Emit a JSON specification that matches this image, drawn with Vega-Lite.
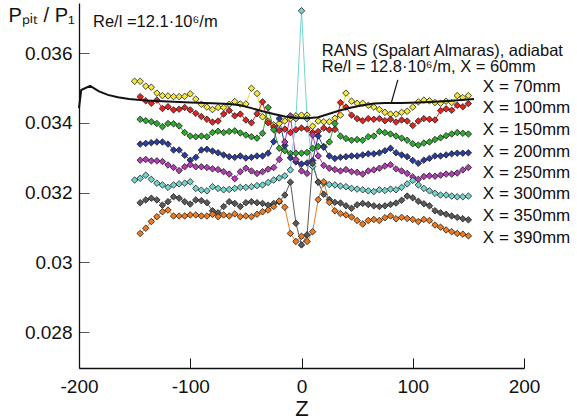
{
"$schema": "https://vega.github.io/schema/vega-lite/v6.json",
"width": 445, "height": 365,
"autosize": {"type": "none"},
"padding": {"left": 79, "top": 3, "right": 53, "bottom": 52},
"config": {"font": "Liberation Sans", "view": {"stroke": null}, "text": {"color": "#111"}},
"datasets": {
"series": [
{"s":"70","z":-150,"p":0.03519},{"s":"70","z":-145,"p":0.03519},{"s":"70","z":-140,"p":0.03505},{"s":"70","z":-135,"p":0.03502},{"s":"70","z":-130,"p":0.03485},{"s":"70","z":-125,"p":0.03478},{"s":"70","z":-120,"p":0.03477},{"s":"70","z":-115,"p":0.03475},{"s":"70","z":-110,"p":0.03475},{"s":"70","z":-105,"p":0.03476},{"s":"70","z":-100,"p":0.03483},{"s":"70","z":-95,"p":0.03468},{"s":"70","z":-90,"p":0.03453},{"s":"70","z":-85,"p":0.03445},{"s":"70","z":-80,"p":0.03438},{"s":"70","z":-75,"p":0.03444},{"s":"70","z":-70,"p":0.03444},{"s":"70","z":-65,"p":0.03453},{"s":"70","z":-60,"p":0.03461},{"s":"70","z":-55,"p":0.03454},{"s":"70","z":-50,"p":0.03454},{"s":"70","z":-45,"p":0.03499},{"s":"70","z":-40,"p":0.03484},{"s":"70","z":-35,"p":0.03417},{"s":"70","z":-30,"p":0.03405},{"s":"70","z":-25,"p":0.03394},{"s":"70","z":-20,"p":0.03398},{"s":"70","z":-15,"p":0.03405},{"s":"70","z":-10,"p":0.03412},{"s":"70","z":-5,"p":0.0342},{"s":"70","z":0,"p":0.03422},{"s":"70","z":5,"p":0.03422},{"s":"70","z":10,"p":0.0339},{"s":"70","z":15,"p":0.03405},{"s":"70","z":20,"p":0.03403},{"s":"70","z":25,"p":0.03403},{"s":"70","z":30,"p":0.03413},{"s":"70","z":35,"p":0.03422},{"s":"70","z":40,"p":0.03485},{"s":"70","z":45,"p":0.03462},{"s":"70","z":50,"p":0.03456},{"s":"70","z":55,"p":0.03456},{"s":"70","z":60,"p":0.0345},{"s":"70","z":65,"p":0.03445},{"s":"70","z":70,"p":0.03438},{"s":"70","z":75,"p":0.0343},{"s":"70","z":80,"p":0.03425},{"s":"70","z":85,"p":0.03425},{"s":"70","z":90,"p":0.0343},{"s":"70","z":95,"p":0.03433},{"s":"70","z":100,"p":0.03445},{"s":"70","z":105,"p":0.0346},{"s":"70","z":110,"p":0.03465},{"s":"70","z":115,"p":0.03463},{"s":"70","z":120,"p":0.03458},{"s":"70","z":125,"p":0.03456},{"s":"70","z":130,"p":0.03462},{"s":"70","z":135,"p":0.03458},{"s":"70","z":140,"p":0.03478},{"s":"70","z":145,"p":0.03472},{"s":"70","z":150,"p":0.03478},
{"s":"100","z":-145,"p":0.03475},{"s":"100","z":-140,"p":0.03463},{"s":"100","z":-135,"p":0.03456},{"s":"100","z":-130,"p":0.03465},{"s":"100","z":-125,"p":0.03441},{"s":"100","z":-120,"p":0.03446},{"s":"100","z":-115,"p":0.03437},{"s":"100","z":-110,"p":0.03439},{"s":"100","z":-105,"p":0.03444},{"s":"100","z":-100,"p":0.03437},{"s":"100","z":-95,"p":0.03427},{"s":"100","z":-90,"p":0.03418},{"s":"100","z":-85,"p":0.0341},{"s":"100","z":-80,"p":0.03402},{"s":"100","z":-75,"p":0.03405},{"s":"100","z":-70,"p":0.03425},{"s":"100","z":-65,"p":0.03435},{"s":"100","z":-60,"p":0.0342},{"s":"100","z":-55,"p":0.03425},{"s":"100","z":-50,"p":0.03408},{"s":"100","z":-45,"p":0.034},{"s":"100","z":-40,"p":0.03426},{"s":"100","z":-35,"p":0.0346},{"s":"100","z":-30,"p":0.034},{"s":"100","z":-25,"p":0.03388},{"s":"100","z":-20,"p":0.03378},{"s":"100","z":-15,"p":0.03382},{"s":"100","z":-10,"p":0.03372},{"s":"100","z":-5,"p":0.0338},{"s":"100","z":0,"p":0.03385},{"s":"100","z":5,"p":0.03382},{"s":"100","z":10,"p":0.03372},{"s":"100","z":15,"p":0.03375},{"s":"100","z":20,"p":0.03385},{"s":"100","z":25,"p":0.0338},{"s":"100","z":30,"p":0.03381},{"s":"100","z":35,"p":0.03458},{"s":"100","z":40,"p":0.03445},{"s":"100","z":45,"p":0.03422},{"s":"100","z":50,"p":0.03412},{"s":"100","z":55,"p":0.03406},{"s":"100","z":60,"p":0.03412},{"s":"100","z":65,"p":0.0341},{"s":"100","z":70,"p":0.03412},{"s":"100","z":75,"p":0.03406},{"s":"100","z":80,"p":0.0341},{"s":"100","z":85,"p":0.03402},{"s":"100","z":90,"p":0.03408},{"s":"100","z":95,"p":0.03405},{"s":"100","z":100,"p":0.03392},{"s":"100","z":105,"p":0.03405},{"s":"100","z":110,"p":0.03412},{"s":"100","z":115,"p":0.0341},{"s":"100","z":120,"p":0.03408},{"s":"100","z":125,"p":0.03435},{"s":"100","z":130,"p":0.0344},{"s":"100","z":135,"p":0.03436},{"s":"100","z":140,"p":0.0345},{"s":"100","z":145,"p":0.03446},{"s":"100","z":150,"p":0.03455},
{"s":"150","z":-145,"p":0.0341},{"s":"150","z":-140,"p":0.03406},{"s":"150","z":-135,"p":0.03403},{"s":"150","z":-130,"p":0.03398},{"s":"150","z":-125,"p":0.03389},{"s":"150","z":-120,"p":0.03398},{"s":"150","z":-115,"p":0.03397},{"s":"150","z":-110,"p":0.03391},{"s":"150","z":-105,"p":0.03372},{"s":"150","z":-100,"p":0.03362},{"s":"150","z":-95,"p":0.0336},{"s":"150","z":-90,"p":0.03362},{"s":"150","z":-85,"p":0.0336},{"s":"150","z":-80,"p":0.03372},{"s":"150","z":-75,"p":0.03376},{"s":"150","z":-70,"p":0.03372},{"s":"150","z":-65,"p":0.03375},{"s":"150","z":-60,"p":0.03377},{"s":"150","z":-55,"p":0.03371},{"s":"150","z":-50,"p":0.03365},{"s":"150","z":-45,"p":0.0336},{"s":"150","z":-40,"p":0.03356},{"s":"150","z":-35,"p":0.0337},{"s":"150","z":-30,"p":0.03444},{"s":"150","z":-25,"p":0.0338},{"s":"150","z":-20,"p":0.03327},{"s":"150","z":-15,"p":0.0332},{"s":"150","z":-10,"p":0.03312},{"s":"150","z":-5,"p":0.03313},{"s":"150","z":0,"p":0.03313},{"s":"150","z":5,"p":0.03315},{"s":"150","z":10,"p":0.03327},{"s":"150","z":15,"p":0.03332},{"s":"150","z":20,"p":0.03332},{"s":"150","z":25,"p":0.03345},{"s":"150","z":30,"p":0.03398},{"s":"150","z":35,"p":0.03362},{"s":"150","z":40,"p":0.03355},{"s":"150","z":45,"p":0.0335},{"s":"150","z":50,"p":0.03352},{"s":"150","z":55,"p":0.0335},{"s":"150","z":60,"p":0.0336},{"s":"150","z":65,"p":0.03362},{"s":"150","z":70,"p":0.03375},{"s":"150","z":75,"p":0.03372},{"s":"150","z":80,"p":0.03368},{"s":"150","z":85,"p":0.03362},{"s":"150","z":90,"p":0.03356},{"s":"150","z":95,"p":0.0335},{"s":"150","z":100,"p":0.0334},{"s":"150","z":105,"p":0.03336},{"s":"150","z":110,"p":0.03342},{"s":"150","z":115,"p":0.03345},{"s":"150","z":120,"p":0.03352},{"s":"150","z":125,"p":0.03357},{"s":"150","z":130,"p":0.03363},{"s":"150","z":135,"p":0.03368},{"s":"150","z":140,"p":0.03372},{"s":"150","z":145,"p":0.0337},{"s":"150","z":150,"p":0.03368},
{"s":"200","z":-145,"p":0.03339},{"s":"200","z":-140,"p":0.03341},{"s":"200","z":-135,"p":0.03343},{"s":"200","z":-130,"p":0.03345},{"s":"200","z":-125,"p":0.03345},{"s":"200","z":-120,"p":0.03339},{"s":"200","z":-115,"p":0.03322},{"s":"200","z":-110,"p":0.03322},{"s":"200","z":-105,"p":0.03307},{"s":"200","z":-100,"p":0.03293},{"s":"200","z":-95,"p":0.03301},{"s":"200","z":-90,"p":0.03322},{"s":"200","z":-85,"p":0.03324},{"s":"200","z":-80,"p":0.03319},{"s":"200","z":-75,"p":0.03314},{"s":"200","z":-70,"p":0.03308},{"s":"200","z":-65,"p":0.03303},{"s":"200","z":-60,"p":0.03301},{"s":"200","z":-55,"p":0.03305},{"s":"200","z":-50,"p":0.03299},{"s":"200","z":-45,"p":0.03301},{"s":"200","z":-40,"p":0.03305},{"s":"200","z":-35,"p":0.03305},{"s":"200","z":-30,"p":0.03313},{"s":"200","z":-25,"p":0.03346},{"s":"200","z":-20,"p":0.03412},{"s":"200","z":-15,"p":0.03335},{"s":"200","z":-10,"p":0.033},{"s":"200","z":-5,"p":0.03288},{"s":"200","z":0,"p":0.03282},{"s":"200","z":5,"p":0.03285},{"s":"200","z":10,"p":0.03292},{"s":"200","z":15,"p":0.03362},{"s":"200","z":20,"p":0.0333},{"s":"200","z":25,"p":0.03305},{"s":"200","z":30,"p":0.03298},{"s":"200","z":35,"p":0.03301},{"s":"200","z":40,"p":0.03303},{"s":"200","z":45,"p":0.03305},{"s":"200","z":50,"p":0.03305},{"s":"200","z":55,"p":0.03308},{"s":"200","z":60,"p":0.03311},{"s":"200","z":65,"p":0.03311},{"s":"200","z":70,"p":0.03314},{"s":"200","z":75,"p":0.0332},{"s":"200","z":80,"p":0.03327},{"s":"200","z":85,"p":0.03314},{"s":"200","z":90,"p":0.03308},{"s":"200","z":95,"p":0.03303},{"s":"200","z":100,"p":0.03292},{"s":"200","z":105,"p":0.03284},{"s":"200","z":110,"p":0.03293},{"s":"200","z":115,"p":0.03298},{"s":"200","z":120,"p":0.03305},{"s":"200","z":125,"p":0.03305},{"s":"200","z":130,"p":0.03308},{"s":"200","z":135,"p":0.03311},{"s":"200","z":140,"p":0.03313},{"s":"200","z":145,"p":0.03313},{"s":"200","z":150,"p":0.03314},
{"s":"250","z":-145,"p":0.03293},{"s":"250","z":-140,"p":0.03295},{"s":"250","z":-135,"p":0.03291},{"s":"250","z":-130,"p":0.03291},{"s":"250","z":-125,"p":0.03289},{"s":"250","z":-120,"p":0.03279},{"s":"250","z":-115,"p":0.03272},{"s":"250","z":-110,"p":0.03263},{"s":"250","z":-105,"p":0.03274},{"s":"250","z":-100,"p":0.0328},{"s":"250","z":-95,"p":0.03274},{"s":"250","z":-90,"p":0.03274},{"s":"250","z":-85,"p":0.03272},{"s":"250","z":-80,"p":0.03268},{"s":"250","z":-75,"p":0.03266},{"s":"250","z":-70,"p":0.0326},{"s":"250","z":-65,"p":0.03253},{"s":"250","z":-60,"p":0.0324},{"s":"250","z":-55,"p":0.0326},{"s":"250","z":-50,"p":0.0327},{"s":"250","z":-45,"p":0.03262},{"s":"250","z":-40,"p":0.03255},{"s":"250","z":-35,"p":0.0326},{"s":"250","z":-30,"p":0.03267},{"s":"250","z":-25,"p":0.03272},{"s":"250","z":-20,"p":0.03295},{"s":"250","z":-15,"p":0.03345},{"s":"250","z":-10,"p":0.0342},{"s":"250","z":-5,"p":0.03295},{"s":"250","z":0,"p":0.03262},{"s":"250","z":5,"p":0.03255},{"s":"250","z":10,"p":0.03365},{"s":"250","z":15,"p":0.03305},{"s":"250","z":20,"p":0.03278},{"s":"250","z":25,"p":0.0327},{"s":"250","z":30,"p":0.03266},{"s":"250","z":35,"p":0.03262},{"s":"250","z":40,"p":0.03266},{"s":"250","z":45,"p":0.0326},{"s":"250","z":50,"p":0.03258},{"s":"250","z":55,"p":0.03253},{"s":"250","z":60,"p":0.03262},{"s":"250","z":65,"p":0.03265},{"s":"250","z":70,"p":0.0327},{"s":"250","z":75,"p":0.03276},{"s":"250","z":80,"p":0.0328},{"s":"250","z":85,"p":0.03268},{"s":"250","z":90,"p":0.03262},{"s":"250","z":95,"p":0.03255},{"s":"250","z":100,"p":0.03245},{"s":"250","z":105,"p":0.03238},{"s":"250","z":110,"p":0.03246},{"s":"250","z":115,"p":0.03248},{"s":"250","z":120,"p":0.03247},{"s":"250","z":125,"p":0.0325},{"s":"250","z":130,"p":0.03253},{"s":"250","z":135,"p":0.03253},{"s":"250","z":140,"p":0.03256},{"s":"250","z":145,"p":0.03265},{"s":"250","z":150,"p":0.03272},
{"s":"300","z":-150,"p":0.03236},{"s":"300","z":-145,"p":0.03241},{"s":"300","z":-140,"p":0.0325},{"s":"300","z":-135,"p":0.03238},{"s":"300","z":-130,"p":0.03227},{"s":"300","z":-125,"p":0.03222},{"s":"300","z":-120,"p":0.03215},{"s":"300","z":-115,"p":0.03222},{"s":"300","z":-110,"p":0.03225},{"s":"300","z":-105,"p":0.03227},{"s":"300","z":-100,"p":0.03231},{"s":"300","z":-95,"p":0.03212},{"s":"300","z":-90,"p":0.03207},{"s":"300","z":-85,"p":0.03205},{"s":"300","z":-80,"p":0.03217},{"s":"300","z":-75,"p":0.03212},{"s":"300","z":-70,"p":0.03208},{"s":"300","z":-65,"p":0.03209},{"s":"300","z":-60,"p":0.03212},{"s":"300","z":-55,"p":0.03215},{"s":"300","z":-50,"p":0.03215},{"s":"300","z":-45,"p":0.03217},{"s":"300","z":-40,"p":0.0322},{"s":"300","z":-35,"p":0.03222},{"s":"300","z":-30,"p":0.03229},{"s":"300","z":-25,"p":0.03236},{"s":"300","z":-20,"p":0.03242},{"s":"300","z":-15,"p":0.03248},{"s":"300","z":-10,"p":0.03265},{"s":"300","z":-5,"p":0.03412},{"s":"300","z":0,"p":0.03721},{"s":"300","z":5,"p":0.03412},{"s":"300","z":10,"p":0.03275},{"s":"300","z":15,"p":0.0323},{"s":"300","z":20,"p":0.03227},{"s":"300","z":25,"p":0.03223},{"s":"300","z":30,"p":0.03222},{"s":"300","z":35,"p":0.03219},{"s":"300","z":40,"p":0.03217},{"s":"300","z":45,"p":0.03212},{"s":"300","z":50,"p":0.0321},{"s":"300","z":55,"p":0.03208},{"s":"300","z":60,"p":0.03205},{"s":"300","z":65,"p":0.03203},{"s":"300","z":70,"p":0.03208},{"s":"300","z":75,"p":0.03206},{"s":"300","z":80,"p":0.0321},{"s":"300","z":85,"p":0.03208},{"s":"300","z":90,"p":0.03215},{"s":"300","z":95,"p":0.03225},{"s":"300","z":100,"p":0.03235},{"s":"300","z":105,"p":0.03222},{"s":"300","z":110,"p":0.03212},{"s":"300","z":115,"p":0.03205},{"s":"300","z":120,"p":0.03198},{"s":"300","z":125,"p":0.03193},{"s":"300","z":130,"p":0.03193},{"s":"300","z":135,"p":0.0319},{"s":"300","z":140,"p":0.03188},{"s":"300","z":145,"p":0.03188},{"s":"300","z":150,"p":0.0319},
{"s":"350","z":-145,"p":0.03171},{"s":"350","z":-140,"p":0.03179},{"s":"350","z":-135,"p":0.03184},{"s":"350","z":-130,"p":0.03179},{"s":"350","z":-125,"p":0.03164},{"s":"350","z":-120,"p":0.03174},{"s":"350","z":-115,"p":0.03188},{"s":"350","z":-110,"p":0.03184},{"s":"350","z":-105,"p":0.03174},{"s":"350","z":-100,"p":0.03167},{"s":"350","z":-95,"p":0.03179},{"s":"350","z":-90,"p":0.03177},{"s":"350","z":-85,"p":0.03171},{"s":"350","z":-80,"p":0.03148},{"s":"350","z":-75,"p":0.03142},{"s":"350","z":-70,"p":0.0316},{"s":"350","z":-65,"p":0.03174},{"s":"350","z":-60,"p":0.03169},{"s":"350","z":-55,"p":0.0316},{"s":"350","z":-50,"p":0.03171},{"s":"350","z":-45,"p":0.03174},{"s":"350","z":-40,"p":0.03171},{"s":"350","z":-35,"p":0.03169},{"s":"350","z":-30,"p":0.03164},{"s":"350","z":-25,"p":0.03169},{"s":"350","z":-20,"p":0.03174},{"s":"350","z":-15,"p":0.03193},{"s":"350","z":-10,"p":0.0323},{"s":"350","z":-5,"p":0.03112},{"s":"350","z":0,"p":0.0305},{"s":"350","z":5,"p":0.03079},{"s":"350","z":10,"p":0.03284},{"s":"350","z":15,"p":0.0323},{"s":"350","z":20,"p":0.03195},{"s":"350","z":25,"p":0.0318},{"s":"350","z":30,"p":0.03172},{"s":"350","z":35,"p":0.0317},{"s":"350","z":40,"p":0.03162},{"s":"350","z":45,"p":0.03155},{"s":"350","z":50,"p":0.03165},{"s":"350","z":55,"p":0.03169},{"s":"350","z":60,"p":0.03166},{"s":"350","z":65,"p":0.03162},{"s":"350","z":70,"p":0.0316},{"s":"350","z":75,"p":0.03162},{"s":"350","z":80,"p":0.03166},{"s":"350","z":85,"p":0.0317},{"s":"350","z":90,"p":0.03178},{"s":"350","z":95,"p":0.0319},{"s":"350","z":100,"p":0.03185},{"s":"350","z":105,"p":0.03175},{"s":"350","z":110,"p":0.03168},{"s":"350","z":115,"p":0.03162},{"s":"350","z":120,"p":0.03148},{"s":"350","z":125,"p":0.03142},{"s":"350","z":130,"p":0.03138},{"s":"350","z":135,"p":0.03133},{"s":"350","z":140,"p":0.03129},{"s":"350","z":145,"p":0.03125},{"s":"350","z":150,"p":0.03122},
{"s":"390","z":-145,"p":0.03083},{"s":"390","z":-140,"p":0.03098},{"s":"390","z":-135,"p":0.03117},{"s":"390","z":-130,"p":0.03131},{"s":"390","z":-125,"p":0.03145},{"s":"390","z":-120,"p":0.0315},{"s":"390","z":-115,"p":0.03133},{"s":"390","z":-110,"p":0.03133},{"s":"390","z":-105,"p":0.03133},{"s":"390","z":-100,"p":0.03136},{"s":"390","z":-95,"p":0.03136},{"s":"390","z":-90,"p":0.03133},{"s":"390","z":-85,"p":0.03133},{"s":"390","z":-80,"p":0.03138},{"s":"390","z":-75,"p":0.03131},{"s":"390","z":-70,"p":0.03136},{"s":"390","z":-65,"p":0.03133},{"s":"390","z":-60,"p":0.03139},{"s":"390","z":-55,"p":0.03131},{"s":"390","z":-50,"p":0.03133},{"s":"390","z":-45,"p":0.03131},{"s":"390","z":-40,"p":0.03138},{"s":"390","z":-35,"p":0.03145},{"s":"390","z":-30,"p":0.0315},{"s":"390","z":-25,"p":0.0316},{"s":"390","z":-20,"p":0.03176},{"s":"390","z":-15,"p":0.03158},{"s":"390","z":-10,"p":0.03083},{"s":"390","z":-5,"p":0.0306},{"s":"390","z":0,"p":0.03075},{"s":"390","z":5,"p":0.0306},{"s":"390","z":10,"p":0.03088},{"s":"390","z":15,"p":0.0318},{"s":"390","z":20,"p":0.03231},{"s":"390","z":25,"p":0.03172},{"s":"390","z":30,"p":0.03148},{"s":"390","z":35,"p":0.0314},{"s":"390","z":40,"p":0.03136},{"s":"390","z":45,"p":0.0313},{"s":"390","z":50,"p":0.0312},{"s":"390","z":55,"p":0.0311},{"s":"390","z":60,"p":0.0312},{"s":"390","z":65,"p":0.03123},{"s":"390","z":70,"p":0.0312},{"s":"390","z":75,"p":0.03128},{"s":"390","z":80,"p":0.03133},{"s":"390","z":85,"p":0.03125},{"s":"390","z":90,"p":0.03129},{"s":"390","z":95,"p":0.03126},{"s":"390","z":100,"p":0.03123},{"s":"390","z":105,"p":0.03117},{"s":"390","z":110,"p":0.03123},{"s":"390","z":115,"p":0.0312},{"s":"390","z":120,"p":0.03107},{"s":"390","z":125,"p":0.03101},{"s":"390","z":130,"p":0.03093},{"s":"390","z":135,"p":0.03088},{"s":"390","z":140,"p":0.03083},{"s":"390","z":145,"p":0.03081},{"s":"390","z":150,"p":0.03076}
],
"rans": [
{"z":-200,"p":0.03442},{"z":-198,"p":0.03494},{"z":-190,"p":0.03506},{"z":-182,"p":0.0349},{"z":-174,"p":0.0348},{"z":-165,"p":0.03473},{"z":-155,"p":0.03468},{"z":-140,"p":0.03464},{"z":-120,"p":0.03461},{"z":-100,"p":0.03458},{"z":-80,"p":0.03456},{"z":-65,"p":0.03454},{"z":-55,"p":0.0345},{"z":-45,"p":0.03442},{"z":-35,"p":0.03433},{"z":-25,"p":0.03425},{"z":-15,"p":0.03418},{"z":-5,"p":0.03414},{"z":5,"p":0.03413},{"z":15,"p":0.03416},{"z":25,"p":0.03426},{"z":35,"p":0.03436},{"z":45,"p":0.03444},{"z":55,"p":0.0345},{"z":65,"p":0.03455},{"z":75,"p":0.03457},{"z":90,"p":0.03457},{"z":105,"p":0.03458},{"z":120,"p":0.0346},{"z":135,"p":0.03463},{"z":155,"p":0.03468}
],
"leader": [{"z":80.6,"p":0.03456,"z2":86.6,"p2":0.03523}],
"legendText": [
{"t":"X = 70mm","z":163,"p":0.035026},{"t":"X = 100mm","z":163,"p":0.034424},{"t":"X = 150mm","z":163,"p":0.033794},{"t":"X = 200mm","z":163,"p":0.033163},{"t":"X = 250mm","z":163,"p":0.032562},{"t":"X = 300mm","z":163,"p":0.03196},{"t":"X = 350mm","z":163,"p":0.03133},{"t":"X = 390mm","z":163,"p":0.030699}
],
"notes": [
{"t":"RANS (Spalart Almaras), adiabat","z":18.2,"p":0.035914},
{"t":"Re/l = 12.8·10⁶/m, X = 60mm","z":18.2,"p":0.035464},
{"t":"Re/l =12.1·10⁶/m","z":-187.4,"p":0.036745}
]
},
"encoding": {
"x": {"field":"z","type":"quantitative","scale":{"domain":[-200,200],"nice":false,"zero":false},
 "axis":{"title":"Z","values":[-200,-100,0,100,200],"labelExpr":"toString(datum.value)","grid":false,"labelFlush":false,"tickSize":-10,"tickColor":"#111","tickWidth":1,"domainColor":"#111","domainWidth":1.3,"labelFontSize":19,"labelColor":"#111","labelPadding":19,"titleFontSize":22,"titleFontWeight":"normal","titleColor":"#111","titleY":40,"titleBaseline":"middle"}},
"y": {"field":"p","type":"quantitative","scale":{"domain":[0.026974,0.037433],"nice":false,"zero":false},
 "axis":{"title":"Pₚᵢₜ / P₁","values":[0.028,0.03,0.032,0.034,0.036],"format":"~g","grid":false,"tickSize":-10,"tickColor":"#555","tickWidth":1,"domainColor":"#111","domainWidth":1.3,"labelFontSize":19,"labelColor":"#111","labelPadding":17,"titleFontSize":20,"titleFontWeight":"normal","titleColor":"#111","titleAngle":0,"titleAlign":"left","titleBaseline":"alphabetic","titleX":-71,"titleY":18}}
},
"layer": [
{"data":{"name":"series"},"mark":{"type":"line","strokeWidth":1},
 "encoding":{"color":{"field":"s","type":"nominal","legend":null,"scale":{"domain":["70","100","150","200","250","300","350","390"],"range":["#ece03c","#e02424","#2eaa2e","#2c3c9c","#b23cb2","#74d4cc","#595959","#f07a1e"]}}}},
{"data":{"name":"series"},"mark":{"type":"point","shape":"diamond","filled":true,"size":42,"stroke":"#1a1a1a","strokeWidth":0.8,"opacity":1},
 "encoding":{"fill":{"field":"s","type":"nominal","legend":null,"scale":{"domain":["70","100","150","200","250","300","350","390"],"range":["#f4e83c","#e02424","#2eaa2e","#2c3c9c","#b23cb2","#74d4cc","#595959","#f07a1e"]}}}},
{"data":{"name":"rans"},"mark":{"type":"line","color":"#111","strokeWidth":2},"encoding":{}},
{"data":{"name":"leader"},"mark":{"type":"rule","color":"#111","strokeWidth":1.2},
 "encoding":{"x2":{"field":"z2"},"y2":{"field":"p2"}}},
{"data":{"name":"legendText"},"mark":{"type":"text","align":"left","baseline":"middle","fontSize":17},
 "encoding":{"text":{"field":"t"}}},
{"data":{"name":"notes"},"mark":{"type":"text","align":"left","baseline":"alphabetic","fontSize":16.5},
 "encoding":{"text":{"field":"t"}}},
{"data":{"values":[{}]},"mark":{"type":"rule","color":"#111","strokeWidth":1.3},
 "encoding":{"x":{"datum":-200},"x2":{"datum":200},"y":{"datum":0.037433}}},
{"data":{"values":[{}]},"mark":{"type":"rule","color":"#111","strokeWidth":1.3},
 "encoding":{"x":{"datum":200},"y":{"datum":0.037433},"y2":{"datum":0.0364}}},
{"data":{"values":[{}]},"mark":{"type":"rule","color":"#111","strokeWidth":1.3},
 "encoding":{"x":{"datum":200},"y":{"datum":0.03029},"y2":{"datum":0.026974}}}
]
}
